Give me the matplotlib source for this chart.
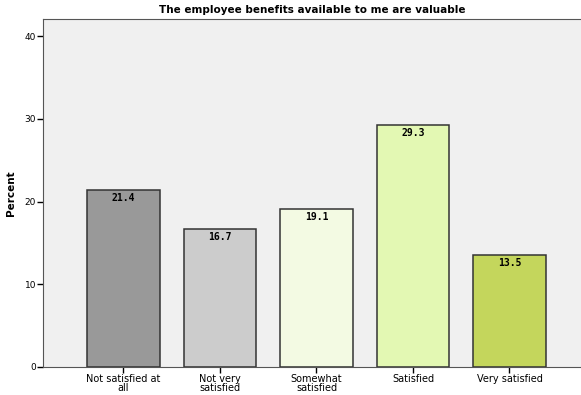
import matplotlib
matplotlib.use('Agg')
import matplotlib.pyplot as plt

categories = ['Not satisfied at\nall', 'Not very\nsatisfied', 'Somewhat\nsatisfied', 'Satisfied', 'Very satisfied']
percents = [21.4, 16.7, 19.1, 29.3, 13.5]
colors = ['#999999', '#cccccc', '#f3fae3', '#e3f8b3', '#c4d65c']

fig = plt.figure(figsize=(5.81, 3.95), dpi=100)
ax = fig.add_axes([0.074, 0.071, 0.926, 0.881])
ax.set_facecolor('#f0f0f0')

x = range(len(categories))
bars = ax.bar(x, percents, width=0.756, color=colors, edgecolor='#333333', linewidth=1.1)
for b, v in zip(bars, percents):
    ax.text(b.get_x() + b.get_width() / 2, v - 0.35, '%.1f' % v, ha='center', va='top',
            fontsize=7, fontweight='bold', family='DejaVu Sans Mono')

ax.set_xlim(-0.834, 4.741)
ax.set_ylim(0, 42.1)
ax.set_yticks([0, 10, 20, 30, 40])
ax.set_xticks(list(x))
ax.set_xticklabels(categories, fontsize=7, linespacing=0.85)
ax.tick_params(axis='y', labelsize=6.5, length=4, width=1, pad=1)
ax.tick_params(axis='x', length=4, width=1, pad=1)
for s in ['left', 'top', 'bottom']:
    ax.spines[s].set_color('#555555')
ax.spines['right'].set_visible(False)
ax.set_ylabel('Percent', fontsize=7.5, fontweight='bold', labelpad=6)
ax.set_title('The employee benefits available to me are valuable', fontsize=7.5,
             fontweight='bold', pad=4)

fig.savefig('out.png', dpi=100)
